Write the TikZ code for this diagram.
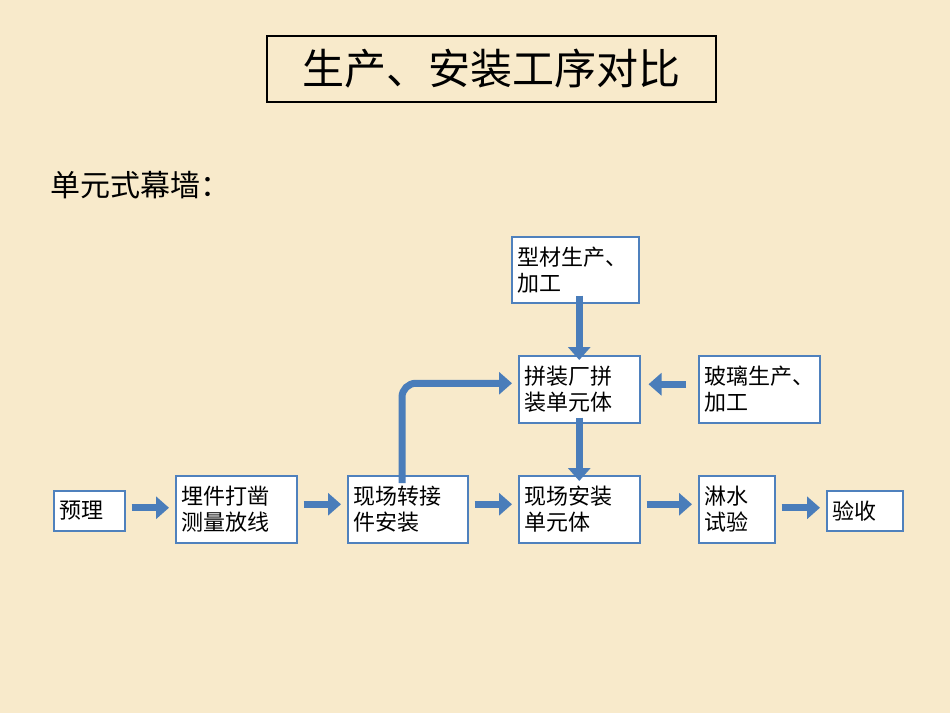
\documentclass[tikz,border=0pt]{standalone}
\usepackage{fontspec}
\setmainfont{Noto Sans CJK SC}
\usetikzlibrary{arrows.meta}
\definecolor{bg}{HTML}{F8EACB}
\definecolor{bd}{HTML}{4F81BD}
\definecolor{ar}{HTML}{4A7DBA}
\begin{document}
\begin{tikzpicture}[x=1pt,y=-1pt,
 box/.style={draw=bd,line width=1.5pt,fill=white,align=left,font=\fontsize{22}{26}\selectfont,inner sep=0pt,anchor=north west},
 arr/.style={draw=ar,line width=7pt,-{Triangle[length=13pt,width=22pt]}}]
\fill[bg] (0,0) rectangle (950,713);
\useasboundingbox (0,0) rectangle (950,713);
\node[draw=black,line width=1.5pt,fill=bg,minimum width=449pt,minimum height=66pt,anchor=north west,font=\fontsize{42}{46}\selectfont,inner sep=0pt] (t) at (266,35) {生产、安装工序对比};
\node[anchor=west,font=\fontsize{30}{34}\selectfont,inner sep=0pt] (s) at (50,185) {单元式幕墙：};
\newcommand{\bx}[6]{\node[box,minimum width=#4pt,minimum height=#5pt,text width=#4pt-12pt,inner xsep=6pt] (#1) at (#2,#3) {#6};}
\bx{a}{53}{490}{71}{40}{预理}
\bx{b}{175}{475}{121}{67}{埋件打凿\\测量放线}
\bx{c}{347}{475}{120}{67}{现场转接\\件安装}
\bx{d}{518}{475}{121}{67}{现场安装\\单元体}
\bx{e}{698}{475}{76}{67}{淋水\\试验}
\bx{f}{826}{490}{76}{40}{验收}
\bx{g}{511}{236}{127}{66}{型材生产、\\加工}
\bx{h}{518}{355}{121}{67}{拼装厂拼\\装单元体}
\bx{i}{698}{355}{121}{67}{玻璃生产、\\加工}
\draw[arr] ([xshift=6pt,yshift=3pt]a.east) -- ([xshift=-6pt,yshift=3pt]a.east -| b.west);
\draw[arr] ([xshift=6pt,yshift=5pt]b.east) -- ([xshift=-6pt,yshift=5pt]c.west);
\draw[arr] ([xshift=6pt,yshift=5pt]c.east) -- ([xshift=-6pt,yshift=5pt]d.west);
\draw[arr] ([xshift=6pt,yshift=5pt]d.east) -- ([xshift=-6pt,yshift=5pt]e.west);
\draw[arr] ([xshift=6pt,yshift=3pt]f.west -| e.east) -- ([xshift=-6pt,yshift=3pt]f.west);
\draw[arr] ([yshift=8pt]g.south -| h.south) -- ([yshift=-5pt]h.north);
\draw[arr] ([yshift=6pt]h.south) -- ([yshift=-6pt]d.north);
\draw[arr] ([xshift=-12pt,yshift=5pt]i.west) -- ([xshift=8pt,yshift=5pt]h.east);
\draw[arr,rounded corners=14pt] ([xshift=55pt,yshift=-8pt]c.north west) |- ([xshift=-6pt,yshift=6pt]h.west);
\end{tikzpicture}
\end{document}
